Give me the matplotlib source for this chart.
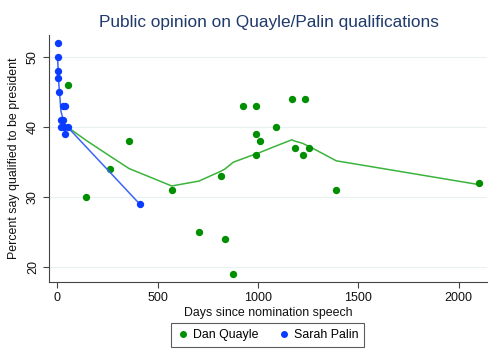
import matplotlib
matplotlib.use("Agg")
import matplotlib.pyplot as plt
from matplotlib.lines import Line2D

plt.rcParams['font.family'] = ['Liberation Sans', 'DejaVu Sans']

# Dan Quayle poll data
quayle_days = [52, 145, 261, 357, 570, 706, 814, 834, 877, 924, 990, 992, 992, 1010,
               1088, 1168, 1186, 1223, 1236, 1253, 1390, 2100]
quayle_pct = [46, 30, 34, 38, 31, 25, 33, 24, 19, 43, 39, 43, 36, 38,
              40, 44, 37, 36, 44, 37, 31, 32]
quayle_fit = [40.0, 38.1, 35.9, 34.1, 31.6, 32.3, 33.7, 34.0, 35.0, 35.5, 36.2, 36.2, 36.2, 36.4,
              37.3, 38.2, 38.0, 37.7, 37.5, 37.3, 35.2, 31.8]

# Sarah Palin poll data
palin_days = [2, 2, 5, 5, 8, 17, 18, 30, 30, 35, 37, 40, 52, 411]
palin_pct = [50, 48, 52, 47, 45, 41, 40, 43, 41, 40, 39, 43, 40, 29]
palin_fit = [49.5, 49.5, 47.5, 47.5, 46.0, 42.8, 42.3, 41.0, 41.0, 40.7, 40.5, 40.4, 40.0, 29.0]

green_dot = '#008f00'
green_line = '#3cb33c'
blue_dot = '#0a3cff'
blue_line = '#3d66f5'

fig = plt.figure(figsize=(5.0, 3.64), dpi=100, facecolor='white')
ax = fig.add_axes([0.0986, 0.2261, 0.8748, 0.6777])

for y in [20, 30, 40, 50]:
    ax.axhline(y, color='#e8f1f2', lw=0.8, zorder=0)

ax.scatter(quayle_days, quayle_pct, s=28, color=green_dot, zorder=3, linewidths=0)
ax.plot(quayle_days, quayle_fit, color=green_line, lw=1.1, zorder=2)
ax.scatter(palin_days, palin_pct, s=28, color=blue_dot, zorder=4, linewidths=0)
ax.plot(palin_days, palin_fit, color=blue_line, lw=1.1, zorder=3)

ax.set_xlim(-40, 2140)
ax.set_ylim(17.9, 53.2)
ax.set_xticks([0, 500, 1000, 1500, 2000])
ax.set_yticks([20, 30, 40, 50])
ax.tick_params(axis='both', direction='out', length=4, width=0.8, color='#444444',
               labelsize=9, labelcolor='#111111')
for lab in ax.get_yticklabels():
    lab.set_rotation(90)
    lab.set_va('center')
for s in ['top', 'right']:
    ax.spines[s].set_visible(False)
for s in ['left', 'bottom']:
    ax.spines[s].set_color('#444444')
    ax.spines[s].set_linewidth(0.8)

ax.set_xlabel('Days since nomination speech', fontsize=8.9, color='#111111', labelpad=2)
ax.set_ylabel('Percent say qualified to be president', fontsize=8.9, color='#111111', labelpad=5)

fig.text(0.537, 0.937, 'Public opinion on Quayle/Palin qualifications', ha='center', va='center',
         fontsize=12.4, color='#1f3a6b')

handles = [Line2D([], [], marker='o', ls='', color=green_dot, markersize=4),
           Line2D([], [], marker='o', ls='', color=blue_dot, markersize=4)]
leg = fig.legend(handles, ['Dan Quayle', 'Sarah Palin'], loc='center', bbox_to_anchor=(0.535, 0.0797),
                 ncol=2, fontsize=8.9, frameon=True, fancybox=False, edgecolor='#333333',
                 handletextpad=0.3, columnspacing=1.6, handlelength=1.0, borderpad=0.45)
leg.get_frame().set_linewidth(0.8)

fig.savefig('out.png', dpi=100, facecolor='white')
